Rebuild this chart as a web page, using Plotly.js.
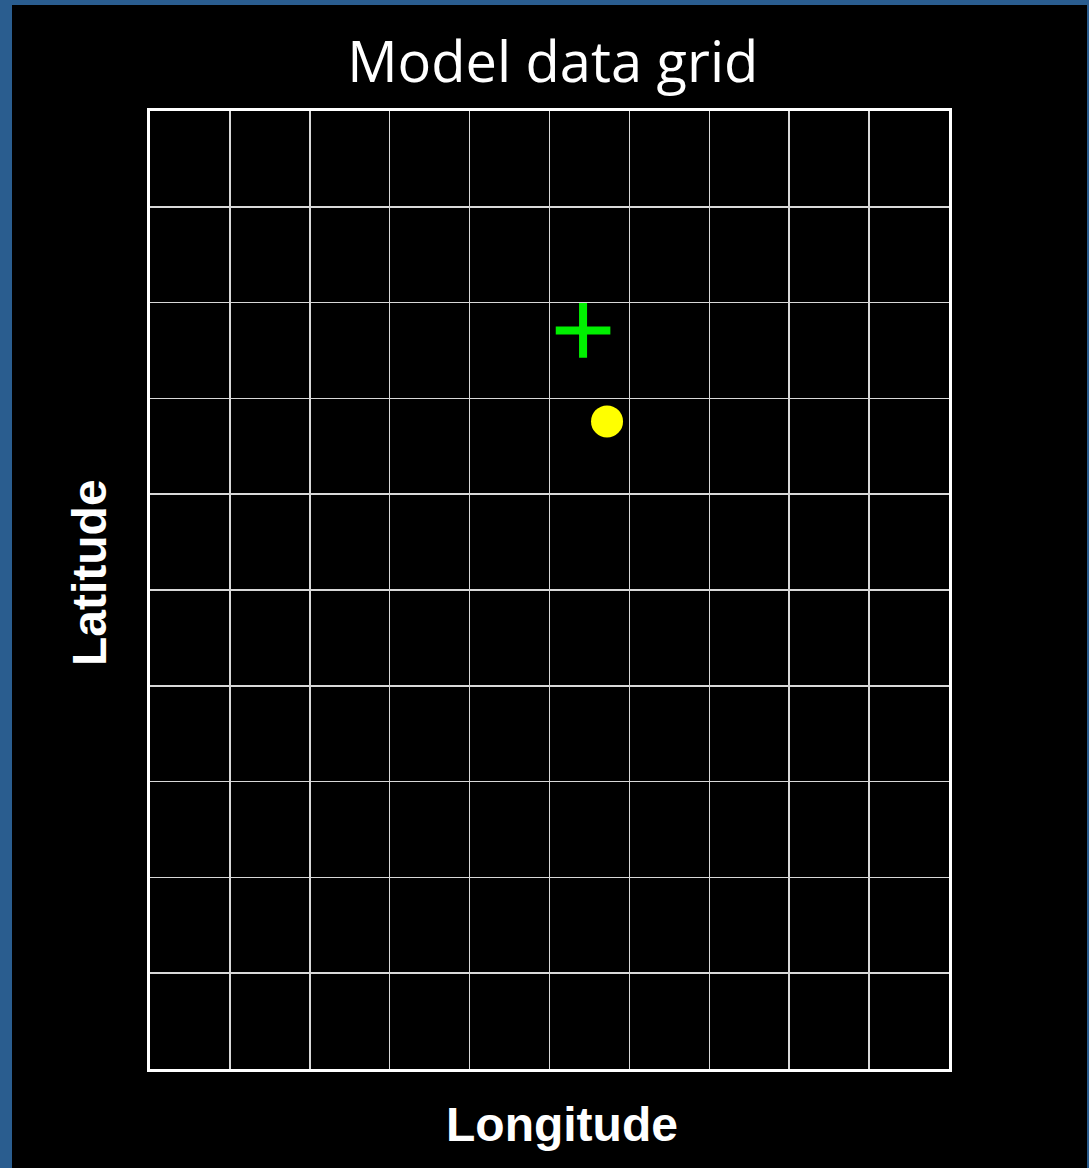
<!DOCTYPE html>
<html>
<head>
<meta charset="utf-8">
<script src="https://cdn.plot.ly/plotly-3.0.1.min.js"></script>
<style>
html,body{margin:0;padding:0;background:#2a5d8f;width:1089px;height:1168px;overflow:hidden;}
#chart{position:absolute;left:12px;top:5px;width:1075px;height:1163px;background:#000;}
</style>
</head>
<body>
<div id="chart"></div>
<script>
// Grid cell edges (model grid)
const lonEdges = [0,1,2,3,4,5,6,7,8,9,10];
const latEdges = [0,1,2,3,4,5,6,7,8,9,10];
// Points
const plusLon = [5.42];
const plusLat = [7.71];
const dotLon = [5.72];
const dotLat = [6.76];

const traces = [
  {x: plusLon, y: plusLat, type: 'scatter', mode: 'markers', name: 'Grid point',
   marker: {symbol: 'cross-thin-open', size: 39, color: '#00f000', line: {color: '#00f000', width: 8}},
   hoverinfo: 'skip'},
  {x: dotLon, y: dotLat, type: 'scatter', mode: 'markers', name: 'Observation',
   marker: {symbol: 'circle', size: 32, color: '#ffff00', line: {width: 0}},
   hoverinfo: 'skip'}
];

const layout = {
  width: 1075, height: 1163,
  paper_bgcolor: '#000', plot_bgcolor: '#000',
  showlegend: false,
  margin: {l: 138, r: 138, t: 106, b: 99},
  title: {text: 'Model data grid', font: {family: 'Open Sans, sans-serif', size: 56, color: '#fff'},
          x: 0.503, xanchor: 'center', y: 0.951, yanchor: 'middle'},
  xaxis: {range: [lonEdges[0], lonEdges[lonEdges.length-1]], tickvals: lonEdges, showticklabels: false,
          ticks: '', showgrid: true, gridcolor: '#d8d8d8', gridwidth: 1.5, zeroline: false,
          showline: true, linecolor: '#fff', linewidth: 3, mirror: true, fixedrange: true},
  yaxis: {range: [latEdges[0], latEdges[latEdges.length-1]], tickvals: latEdges, showticklabels: false,
          ticks: '', showgrid: true, gridcolor: '#d8d8d8', gridwidth: 1.5, zeroline: false,
          showline: true, linecolor: '#fff', linewidth: 3, mirror: true, fixedrange: true},
  annotations: [
    {text: '<b>Longitude</b>', xref: 'paper', yref: 'paper', x: 0.516, y: -0.058, xanchor: 'center', yanchor: 'middle',
     showarrow: false, font: {family: 'Liberation Sans, Arial, sans-serif', size: 48, color: '#fff'}},
    {text: '<b>Latitude</b>', xref: 'paper', yref: 'paper', x: -0.076, y: 0.518, xanchor: 'center', yanchor: 'middle',
     textangle: -90, showarrow: false, font: {family: 'Liberation Sans, Arial, sans-serif', size: 48, color: '#fff'}}
  ]
};

Plotly.newPlot('chart', traces, layout, {displayModeBar: false, staticPlot: true});
</script>
</body>
</html>
